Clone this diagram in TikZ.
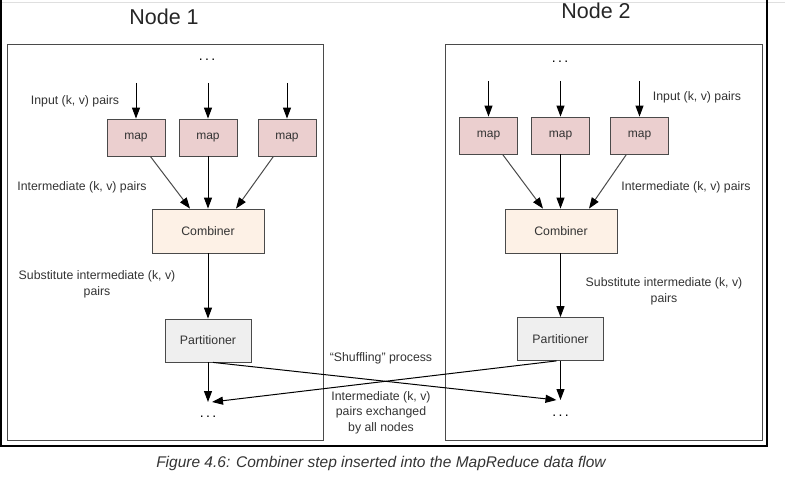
\documentclass[tikz,border=0pt]{standalone}
\usepackage{fontspec}
\setmainfont{Liberation Sans}
\usetikzlibrary{arrows.meta}

\definecolor{mapfill}{HTML}{EBCFCF}
\definecolor{combfill}{HTML}{FDF1E6}
\definecolor{partfill}{HTML}{EFEFEF}
\definecolor{edge}{HTML}{4A4A4A}
\definecolor{txt}{HTML}{333333}

\begin{document}
\begin{tikzpicture}[x=1pt, y=-1pt,
	mapbox/.style={draw=edge, fill=mapfill, thick, minimum width=58pt, minimum height=37pt, inner sep=0pt, font=\fontsize{12}{14}\selectfont, text=txt},
	combbox/.style={draw=edge, fill=combfill, thick, minimum width=112pt, minimum height=44pt, inner sep=0pt, font=\fontsize{12.3}{14}\selectfont, text=txt},
	partbox/.style={draw=edge, fill=partfill, thick, minimum width=86pt, minimum height=43pt, inner sep=0pt, font=\fontsize{12.3}{14}\selectfont, text=txt},
	lbl/.style={text=txt, font=\fontsize{12.3}{15.5}\selectfont, align=center, inner sep=0pt},
	dots/.style={font=\fontsize{14}{14}\selectfont, inner sep=0pt},
	arr/.style={-{Triangle[width=8pt,length=11pt]}, line width=1pt},
	feed/.style={-{Triangle[width=8pt,length=11pt,color=black]}, line width=1pt, draw=edge}
]

	\useasboundingbox (0,0) rectangle (785,484);

	% page frame
	\draw[gray!25] (0,2) -- (785,2);
	\draw[line width=1.6pt] (1,0) -- (1,446) -- (767,446) -- (767,0);

	% the two machines
	\draw[edge, thick] (7,44) rectangle (323,440);
	\draw[edge, thick] (445,44) rectangle (762,440);
	\node[font=\fontsize{21.5}{24}\selectfont, text=black!85] (t1) at (164,17) {Node 1};
	\node[font=\fontsize{21.5}{24}\selectfont, text=black!85] (t2) at (596,11) {Node 2};

	% Node 1
	\node[dots] (d1) at (207,60) {.\,.\,.};
	\node[mapbox] (m11) at (136,137.5) {map};
	\node[mapbox] (m12) at (208,137.5) {map};
	\node[mapbox] (m13) at (287,137.5) {map};
	\coordinate (i11) at (136,83);
	\coordinate (i12) at (208,83);
	\coordinate (i13) at (287,83);
	\node[combbox] (c1) at (208,231) {Combiner};
	\node[partbox] (p1) at (208,340.5) {Partitioner};
	\coordinate (o1) at (208,402);
	\node[dots] (e1) at (208,417) {.\,.\,.};

	\draw[arr] (i11) -- (m11);
	\draw[arr] (i12) -- (m12);
	\draw[arr] (i13) -- (m13);
	\draw[feed] (m11) -- (c1.north -| 190,0);
	\draw[arr] (m12) -- (c1);
	\draw[feed] (m13) -- (c1.north -| 236,0);
	\draw[arr] (c1) -- (p1);
	\draw[arr] (p1) -- (o1);

	\node[lbl] (a1) at (75,101) {Input (k, v) pairs};
	\node[lbl] (b1) at (82,187) {Intermediate (k, v) pairs};
	\node[lbl] (s1) at (97,284.5) {Substitute intermediate (k, v)\\pairs};

	% Node 2
	\node[dots] (d2) at (560,62) {.\,.\,.};
	\node[mapbox] (m21) at (488.5,135.5) {map};
	\node[mapbox] (m22) at (560.5,135.5) {map};
	\node[mapbox] (m23) at (639.5,135.5) {map};
	\coordinate (i21) at (488.5,81);
	\coordinate (i22) at (560.5,81);
	\coordinate (i23) at (639.5,81);
	\node[combbox] (c2) at (561,231) {Combiner};
	\node[partbox] (p2) at (560.5,339) {Partitioner};
	\coordinate (o2) at (560.5,400);
	\node[dots] (e2) at (560.5,416) {.\,.\,.};

	\draw[arr] (i21) -- (m21);
	\draw[arr] (i22) -- (m22);
	\draw[arr] (i23) -- (m23);
	\draw[feed] (m21) -- (c2.north -| 543,0);
	\draw[arr] (m22) -- (c2.north -| 560.5,0);
	\draw[feed] (m23) -- (c2.north -| 589,0);
	\draw[arr] (c2.south -| p2) -- (p2);
	\draw[arr] (p2) -- (o2);

	\node[lbl] (a2) at (697,97) {Input (k, v) pairs};
	\node[lbl] (b2) at (686,187) {Intermediate (k, v) pairs};
	\node[lbl] (s2) at (664,291.5) {Substitute intermediate (k, v)\\pairs};

	% shuffle between the nodes
	\draw[arr] ([xshift=5pt]p1.south) -- ([xshift=-4pt]o2);
	\draw[arr] ([xshift=-4pt]p2.south) -- ([xshift=4pt]o1);
	\node[lbl] (sh) at (381,358) {``Shuffling'' process};
	\node[lbl] (ex) at (381,412.5) {Intermediate (k, v)\\pairs exchanged\\by all nodes};

	% caption
	\node[text=txt, font=\fontsize{15.5}{18}\selectfont\itshape] (cap) at (381,463) {Figure 4.6: Combiner step inserted into the MapReduce data flow};

\end{tikzpicture}
\end{document}
